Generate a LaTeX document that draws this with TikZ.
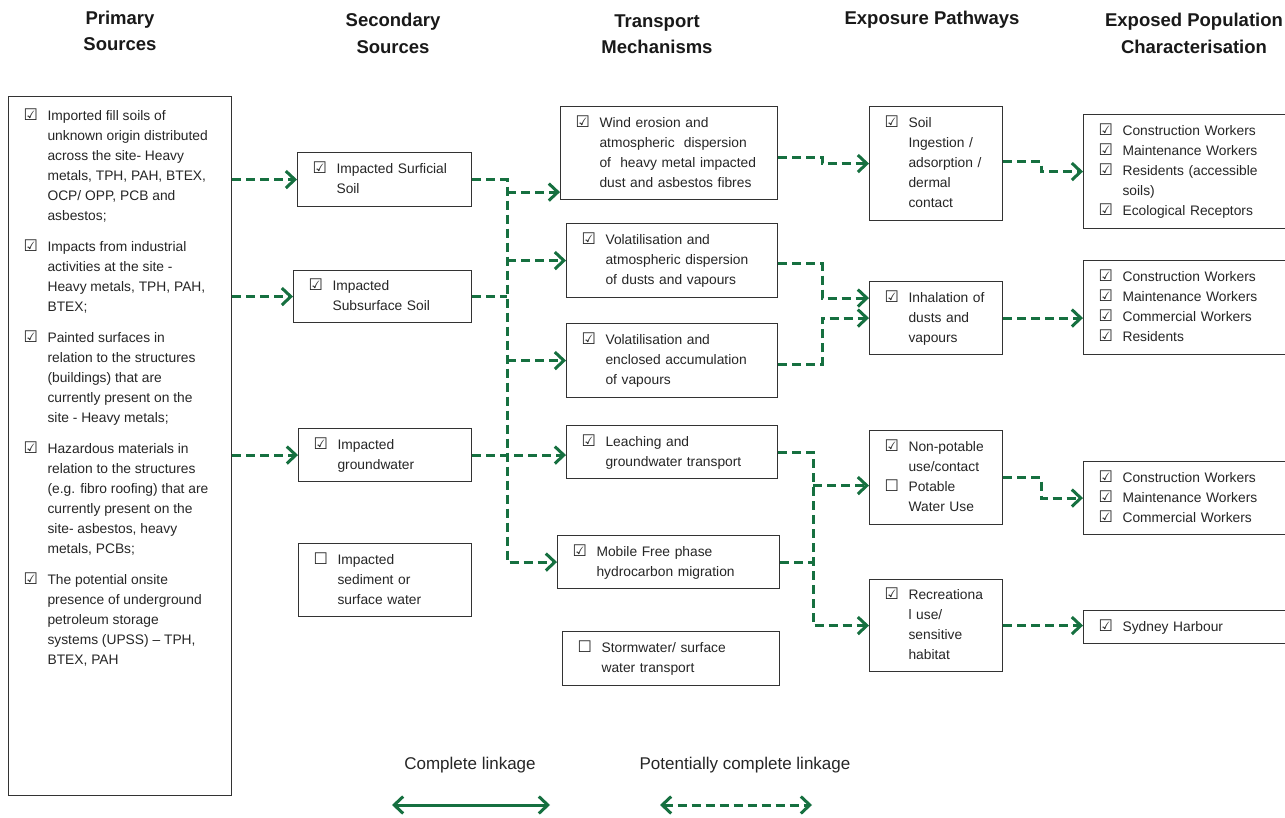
\documentclass[tikz,border=0pt]{standalone}
\usepackage{fontspec}
\setmainfont{Liberation Sans}
\newfontfamily\symf{DejaVu Sans}
\usetikzlibrary{arrows.meta}
\definecolor{lk}{RGB}{22,112,64}
\newcommand\ck{\makebox[24pt][l]{\symf\fontsize{16}{16}\selectfont\char"2611}}
\newcommand\cu{\makebox[24pt][l]{\symf\fontsize{16}{16}\selectfont\char"2610}}
\newcommand\sk{\hspace*{24pt}}
\newcommand\bodyfont{\fontsize{13.8}{20}\selectfont}
\newcommand\ttlfont{\fontsize{18.5}{26.5}\selectfont\bfseries}
\newcommand\legfont{\fontsize{17}{20}\selectfont}
\newenvironment{chk}{\begin{tabular}{@{}l@{}}}{\end{tabular}}
\begin{document}
\begin{tikzpicture}[x=1pt,y=-1pt,
  box/.style={draw=black!80, line width=1.1pt, anchor=north west, inner xsep=15pt, inner ysep=0pt, font=\bodyfont, text=black!85},
  bx/.style={box, align=left},
  ttl/.style={font=\ttlfont, align=center, text=black!90},
  dl/.style={draw=lk, line width=3pt, dash pattern=on 9pt off 5pt},
  dla/.style={dl, -{Straight Barb[length=9pt,width=17pt]}},
  sl/.style={draw=lk, line width=3pt}]
\fill[white] (0,0) rectangle (1285,818);
\useasboundingbox (0,0) rectangle (1285,818);

% titles
\node[ttl] (t1) at (120,31) {Primary\\Sources};
\node[ttl] (t2) at (393,33.5) {Secondary\\Sources};
\node[ttl] (t3) at (657,34) {Transport\\Mechanisms};
\node[ttl] (t4) at (932,20) {Exposure Pathways};
\node[ttl] (t5) at (1194,33.5) {Exposed Population\\Characterisation};

% primary sources
\node[box, inner ysep=9.5pt] (prim) at (8,96) {\parbox[t][680pt][t]{193pt}{\begin{chk}
\ck Imported fill soils of\\
\sk unknown origin distributed\\
\sk across the site- Heavy\\
\sk metals, TPH, PAH, BTEX,\\
\sk OCP/ OPP, PCB and\\
\sk asbestos;\\[11pt]
\ck Impacts from industrial\\
\sk activities at the site -\\
\sk Heavy metals, TPH, PAH,\\
\sk BTEX;\\[11pt]
\ck Painted surfaces in\\
\sk relation to the structures\\
\sk (buildings) that are\\
\sk currently present on the\\
\sk site - Heavy metals;\\[11pt]
\ck Hazardous materials in\\
\sk relation to the structures\\
\sk (e.g. fibro roofing) that are\\
\sk currently present on the\\
\sk site- asbestos, heavy\\
\sk metals, PCBs;\\[11pt]
\ck The potential onsite\\
\sk presence of underground\\
\sk petroleum storage\\
\sk systems (UPSS) -- TPH,\\
\sk BTEX, PAH
\end{chk}}};

% secondary sources
\node[bx, text width=144pt, minimum height=54pt] (ss) at (297,152) {\begin{chk}\ck Impacted Surficial\\ \sk Soil\end{chk}};
\node[bx, text width=148pt, minimum height=52pt] (sub) at (293,270) {\begin{chk}\ck Impacted\\ \sk Subsurface Soil\end{chk}};
\node[bx, text width=143pt, minimum height=53pt] (gw) at (298,428) {\begin{chk}\ck Impacted\\ \sk groundwater\end{chk}};
\node[bx, text width=143pt, minimum height=73pt] (sed) at (298,543) {\begin{chk}\cu Impacted\\ \sk sediment or\\ \sk surface water\end{chk}};

% transport mechanisms
\node[bx, text width=187pt, minimum height=93pt] (wind) at (560,106) {\begin{chk}\ck Wind erosion and\\ \sk atmospheric~ dispersion\\ \sk of~ heavy metal impacted\\ \sk dust and asbestos fibres\end{chk}};
\node[bx, text width=181pt, minimum height=74pt] (vol1) at (566,223) {\begin{chk}\ck Volatilisation and\\ \sk atmospheric dispersion\\ \sk of dusts and vapours\end{chk}};
\node[bx, text width=181pt, minimum height=74pt] (vol2) at (566,323) {\begin{chk}\ck Volatilisation and\\ \sk enclosed accumulation\\ \sk of vapours\end{chk}};
\node[bx, text width=181pt, minimum height=53pt] (leach) at (566,425) {\begin{chk}\ck Leaching and\\ \sk groundwater transport\end{chk}};
\node[bx, text width=192pt, minimum height=53pt] (mob) at (557,535) {\begin{chk}\ck Mobile Free phase\\ \sk hydrocarbon migration\end{chk}};
\node[bx, text width=187pt, minimum height=54pt] (storm) at (562,631) {\begin{chk}\cu Stormwater/ surface\\ \sk water transport\end{chk}};

% exposure pathways
\node[bx, text width=103pt, minimum height=114pt] (soil) at (869,106) {\begin{chk}\ck Soil\\ \sk Ingestion /\\ \sk adsorption /\\ \sk dermal\\ \sk contact\end{chk}};
\node[bx, text width=103pt, minimum height=73pt] (inh) at (869,281) {\begin{chk}\ck Inhalation of\\ \sk dusts and\\ \sk vapours\end{chk}};
\node[bx, text width=103pt, minimum height=94pt] (np) at (869,430) {\begin{chk}\ck Non-potable\\ \sk use/contact\\ \cu Potable\\ \sk Water Use\end{chk}};
\node[bx, text width=103pt, minimum height=92pt] (rec) at (869,579) {\begin{chk}\ck Recreationa\\ \sk l use/\\ \sk sensitive\\ \sk habitat\end{chk}};

% exposed population
\node[bx, text width=187pt, minimum height=114pt] (p1) at (1083,114) {\begin{chk}\ck Construction Workers\\ \ck Maintenance Workers\\ \ck Residents (accessible\\ \sk soils)\\ \ck Ecological Receptors\end{chk}};
\node[bx, text width=187pt, minimum height=94pt] (p2) at (1083,260) {\begin{chk}\ck Construction Workers\\ \ck Maintenance Workers\\ \ck Commercial Workers\\ \ck Residents\end{chk}};
\node[bx, text width=187pt, minimum height=73pt] (p3) at (1083,461) {\begin{chk}\ck Construction Workers\\ \ck Maintenance Workers\\ \ck Commercial Workers\end{chk}};
\node[bx, text width=187pt, minimum height=33pt] (p4) at (1083,610) {\begin{chk}\ck Sydney Harbour\end{chk}};

% helper coordinates
\coordinate (bx) at (507,0);
\coordinate (tx) at (822,0);
\coordinate (tx2) at (813,0);
\coordinate (px) at (1041,0);
\coordinate (wIn) at ([yshift=8pt]wind.south west);
\coordinate (wOut) at ([yshift=-4pt]wind.east);
\coordinate (v1Out) at ([yshift=-3pt]vol1.east);
\coordinate (v2Out) at ([yshift=-4pt]vol2.east);
\coordinate (i1) at ([yshift=20pt]inh.west);
\coordinate (npIn) at ([yshift=-8pt]np.west);
\coordinate (sOut) at ([yshift=2pt]soil.east);

% primary -> secondary
\draw[dla] (prim.east |- ss.west) -- (ss.west);
\draw[dla] (prim.east |- sub.west) -- (sub.west);
\draw[dla] (prim.east |- gw.west) -- (gw.west);

% secondary -> transport
\draw[dla] (ss.east) -- (ss.east -| bx) -- (mob.west -| bx) -- (mob.west);
\draw[dla] (wIn -| bx) -- (wIn);
\draw[dla] (vol1.west -| bx) -- (vol1.west);
\draw[dl] (sub.east) -- (sub.east -| bx);
\draw[dla] (vol2.west -| bx) -- (vol2.west);
\draw[dla] (gw.east) -- (gw.east -| leach.west);

% transport -> exposure
\draw[dla] (wOut) -- (wOut -| tx) |- (soil.west);
\draw[dla] (v1Out) -- (v1Out -| tx) |- (i1);
\draw[dla] (v2Out) -- (v2Out -| tx) |- (inh.west);
\draw[dla] (leach.east) -- (leach.east -| tx2) |- (rec.west);
\draw[dla] (npIn -| tx2) -- (npIn);
\draw[dl] (mob.east) -- (mob.east -| tx2);

% exposure -> population
\draw[dla] (sOut) -- (sOut -| px) |- (p1.west);
\draw[dla] (inh.east) -- (inh.east -| p2.west);
\draw[dla] (np.east) -- (np.east -| px) |- (p3.west);
\draw[dla] (rec.east) -- (rec.east -| p4.west);

% legend
\node[font=\legfont, text=black!85] (lg1) at (470,765) {Complete linkage};
\node[font=\legfont, text=black!85] (lg2) at (745,765) {Potentially complete linkage};
\coordinate (la) at (392,805);
\coordinate (lb) at (550,805);
\coordinate (lc) at (660,805);
\coordinate (ld) at (812,805);
\draw[sl, {Straight Barb[length=9pt,width=17pt]}-{Straight Barb[length=9pt,width=17pt]}] (la) -- (lb);
\draw[dl, {Straight Barb[length=9pt,width=17pt]}-{Straight Barb[length=9pt,width=17pt]}] (lc) -- (ld);
\end{tikzpicture}
\end{document}
